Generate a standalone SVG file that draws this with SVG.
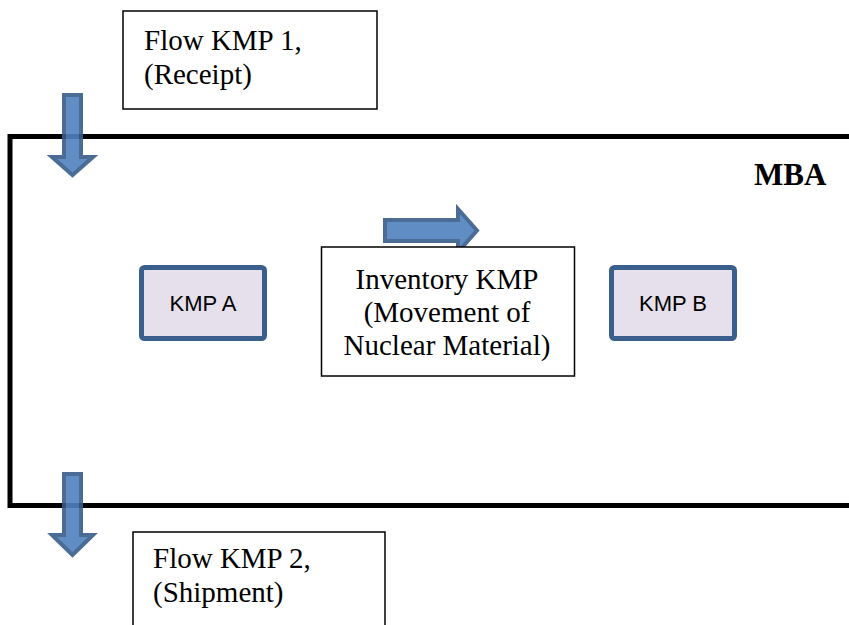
<svg xmlns="http://www.w3.org/2000/svg" width="849" height="625" viewBox="0 0 849 625">
<style>
.serif{font-family:"Liberation Serif","Times New Roman",serif;fill:#000}
.sans{font-family:"Liberation Sans",Arial,sans-serif;fill:#000}
.tbox{fill:#fff;stroke:#000;stroke-width:1.5}
.kmp{fill:#E5E0EC;stroke:#3A5F8C;stroke-width:5}
.arrow{fill:#4F81BD;stroke:#385D8A;stroke-width:4;stroke-linejoin:miter;opacity:0.9}
</style>
<rect width="849" height="625" fill="#fff"/>
<g id="mba">
<rect x="10" y="136.5" width="860" height="369" fill="none" stroke="#000" stroke-width="5"/>
<text class="serif" x="754" y="185" font-size="31" font-weight="bold">MBA</text>
</g>
<g id="connectors">
<polygon class="arrow" points="64,95 81,95 81,157 93,157 72.5,175 52,157 64,157"/>
<polygon class="arrow" points="64,474 81,474 81,535 93,535 72.5,555 52,535 64,535"/>
<polygon class="arrow" points="385,220 458,220 458,209 477,230.5 458,252 458,241 385,241"/>
</g>
<g id="flow1">
<rect class="tbox" x="123" y="11" width="254" height="98"/>
<text class="serif" x="144" y="50" font-size="29">Flow KMP 1,</text>
<text class="serif" x="144" y="84" font-size="29">(Receipt)</text>
</g>
<g id="flow2">
<rect class="tbox" x="133" y="532" width="252" height="100"/>
<text class="serif" x="153" y="568" font-size="29">Flow KMP 2,</text>
<text class="serif" x="153" y="602" font-size="29">(Shipment)</text>
</g>
<g id="inventory">
<rect class="tbox" x="321.5" y="247" width="253" height="129"/>
<text class="serif" x="447" y="289" font-size="29" text-anchor="middle">Inventory KMP</text>
<text class="serif" x="447" y="322" font-size="29" text-anchor="middle">(Movement of</text>
<text class="serif" x="447" y="355" font-size="29" text-anchor="middle">Nuclear Material)</text>
</g>
<g id="kmpA">
<rect class="kmp" x="141.5" y="267.5" width="123" height="71" rx="3"/>
<text class="sans" x="203" y="311" font-size="22" text-anchor="middle">KMP A</text>
</g>
<g id="kmpB">
<rect class="kmp" x="611.5" y="267.5" width="123" height="71" rx="3"/>
<text class="sans" x="673" y="311" font-size="22" text-anchor="middle">KMP B</text>
</g>
</svg>
